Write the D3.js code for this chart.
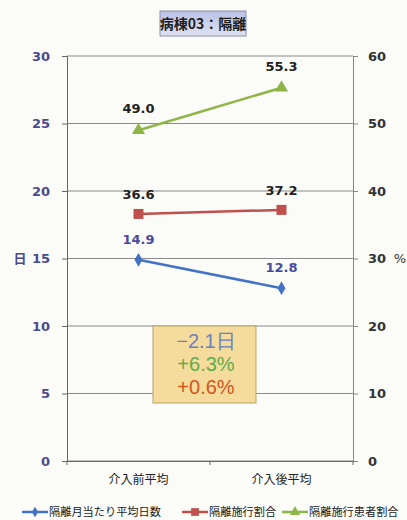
<!DOCTYPE html>
<html><head><meta charset="utf-8">
<script src="https://cdn.jsdelivr.net/npm/d3@7"></script>
<style>
html,body{margin:0;padding:0;background:#fbfbf7;}
svg{display:block;}
</style>
</head><body>
<svg id="c" width="407" height="520"></svg>
<script>
const categories = ["介入前平均", "介入後平均"];
const daysValues = [14.9, 12.8];        // 隔離月当たり平均日数 (left axis, 日)
const rateValues = [36.6, 37.2];        // 隔離施行割合 (right axis, %)
const patientRateValues = [49.0, 55.3]; // 隔離施行患者割合 (right axis, %)
const seriesNames = ["隔離月当たり平均日数", "隔離施行割合", "隔離施行患者割合"];
const leftTicks = [0, 5, 10, 15, 20, 25, 30];
const rightTicks = [0, 10, 20, 30, 40, 50, 60];
const title = "病棟03：隔離";
const noteLines = ["−2.1日", "+6.3%", "+0.6%"];

const svg = d3.select("#c");
const L = 67, R = 353, T = 56, B = 461;
const jp = "'Noto Sans CJK JP', sans-serif";
const num = "'DejaVu Sans', Verdana, sans-serif";

const x = d3.scaleBand().domain(categories).range([L, R]);
const cx = c => x(c) + x.bandwidth() / 2;
const yL = d3.scaleLinear().domain([0, 30]).range([B, T]);
const yR = d3.scaleLinear().domain([0, 60]).range([B, T]);

const defs = svg.append("defs");
const g1 = defs.append("linearGradient").attr("id", "tg").attr("x1", 0).attr("y1", 0).attr("x2", 0).attr("y2", 1);
g1.append("stop").attr("offset", "0%").attr("stop-color", "#b9c0e4");
g1.append("stop").attr("offset", "100%").attr("stop-color", "#dfe2f4");

// gridlines
svg.append("g").selectAll("line").data(leftTicks).join("line")
  .attr("x1", L).attr("x2", R).attr("y1", d => yL(d)).attr("y2", d => yL(d))
  .attr("stroke", "#8a8a8a").attr("stroke-width", 1);

// left axis
const axL = svg.append("g").attr("transform", `translate(${L},0)`)
  .call(d3.axisLeft(yL).tickValues(leftTicks).tickSize(5).tickPadding(12));
axL.select(".domain").attr("stroke", "#666");
axL.selectAll(".tick line").attr("stroke", "#666");
axL.selectAll("text").attr("font-family", num).attr("font-weight", "bold")
  .attr("font-size", 13).attr("fill", "#4a4a8c");

// right axis
const axR = svg.append("g").attr("transform", `translate(${R},0)`)
  .call(d3.axisRight(yR).tickValues(rightTicks).tickSize(5).tickPadding(10));
axR.select(".domain").attr("stroke", "#888");
axR.selectAll(".tick line").attr("stroke", "#888");
axR.selectAll("text").attr("font-family", num).attr("font-weight", "bold")
  .attr("font-size", 13).attr("fill", "#333");

// bottom axis
const axB = svg.append("g").attr("transform", `translate(0,${B})`)
  .call(d3.axisBottom(x).tickSize(0).tickPadding(14));
axB.select(".domain").attr("stroke", "#666");
axB.selectAll("text").attr("font-family", jp).attr("font-size", 12).attr("fill", "#222");
svg.append("g").selectAll("line").data([L, (L + R) / 2, R]).join("line")
  .attr("x1", d => d).attr("x2", d => d).attr("y1", B).attr("y2", B + 4).attr("stroke", "#666");

// axis titles
svg.append("text").attr("x", 20).attr("y", 263).attr("text-anchor", "middle")
  .attr("font-family", jp).attr("font-weight", "bold").attr("font-size", 13).attr("fill", "#4a4a8c").text("日");
svg.append("text").attr("x", 400).attr("y", 263).attr("text-anchor", "middle")
  .attr("font-family", num).attr("font-size", 13).attr("fill", "#333").text("%");

// series
const series = [
  {name: seriesNames[0], vals: daysValues, y: yL, color: "#4472c4", shape: d3.symbolDiamond, size: 55, lab: "#4a4a9c", dy: -16},
  {name: seriesNames[1], vals: rateValues, y: yR, color: "#c0504d", shape: d3.symbolSquare, size: 100, lab: "#222", dy: -15},
  {name: seriesNames[2], vals: patientRateValues, y: yR, color: "#8db548", shape: d3.symbolTriangle, size: 75, lab: "#222", dy: -17}
];
const line = (s) => d3.line().x((d, i) => cx(categories[i])).y(d => s.y(d));
series.forEach(s => {
  svg.append("path").datum(s.vals).attr("d", line(s)).attr("fill", "none")
    .attr("stroke", s.color).attr("stroke-width", 2.5);
  svg.append("g").selectAll("path").data(s.vals).join("path")
    .attr("transform", (d, i) => `translate(${cx(categories[i])},${s.y(d)})`)
    .attr("d", d3.symbol().type(s.shape).size(s.size)).attr("fill", s.color);
  svg.append("g").selectAll("text").data(s.vals).join("text")
    .attr("x", (d, i) => cx(categories[i])).attr("y", d => s.y(d) + s.dy)
    .attr("text-anchor", "middle").attr("font-family", num).attr("font-weight", "bold")
    .attr("font-size", 13).attr("fill", s.lab).text(d => d.toFixed(1));
});

// title box
svg.append("rect").attr("x", 160).attr("y", 11).attr("width", 86).attr("height", 25)
  .attr("fill", "url(#tg)").attr("stroke", "#8c8fa8").attr("stroke-width", 1);
svg.append("text").attr("x", 203).attr("y", 29).attr("text-anchor", "middle")
  .attr("font-family", jp).attr("font-weight", "bold").attr("font-size", 14).attr("fill", "#1e1e1e").text(title);

// annotation box
svg.append("rect").attr("x", 153).attr("y", 326).attr("width", 103).attr("height", 77)
  .attr("fill", "#f5dc9c").attr("stroke", "#b5a56a").attr("stroke-width", 1);
const noteColors = ["#6c80bf", "#5fac4c", "#d0561c"];
svg.append("g").selectAll("text").data(noteLines).join("text")
  .attr("x", 206).attr("y", (d, i) => 348 + i * 23).attr("text-anchor", "middle")
  .attr("font-family", "'Liberation Sans', Arial, sans-serif").attr("font-size", 20)
  .attr("fill", (d, i) => noteColors[i]).text(d => d);

// legend
const legX = [22, 182, 282];
const lg = svg.append("g").selectAll("g").data(series).join("g")
  .attr("transform", (d, i) => `translate(${legX[i]},512)`);
lg.append("line").attr("x1", 0).attr("x2", 26).attr("stroke", d => d.color).attr("stroke-width", 2.5);
lg.append("path").attr("transform", "translate(13,0)")
  .attr("d", d => d3.symbol().type(d.shape).size(d.size * 0.6)()).attr("fill", d => d.color);
lg.append("text").attr("x", 27).attr("y", 4).attr("font-family", jp).attr("font-size", 11.2)
  .attr("fill", "#222").text(d => d.name);
</script>
</body></html>
